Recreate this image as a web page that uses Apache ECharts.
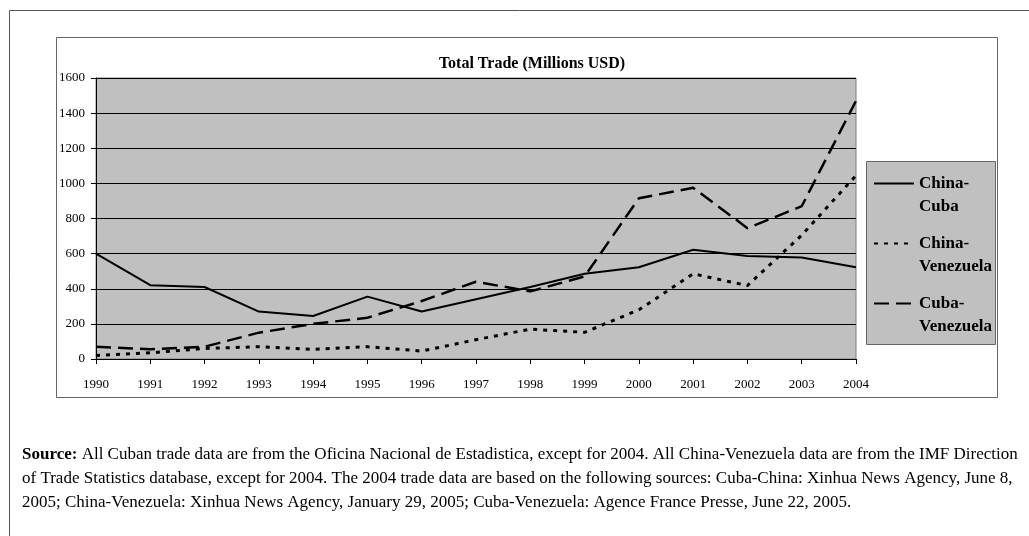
<!DOCTYPE html>
<html>
<head>
<meta charset="utf-8">
<script src="https://cdn.jsdelivr.net/npm/echarts@6/dist/echarts.min.js"></script>
<style>
  html, body { margin: 0; padding: 0; background: #fff; }
  #chart { width: 1029px; height: 536px; }
</style>
</head>
<body>
<div id="chart"></div>
<script>
// years on the x axis
const years = ['1990', '1991', '1992', '1993', '1994', '1995', '1996', '1997',
  '1998', '1999', '2000', '2001', '2002', '2003', '2004'];

// total trade, millions USD
const chinaCuba = [600, 420, 410, 270, 245, 355, 270, 340, 410, 485, 522, 622, 587, 578, 522];
const chinaVenezuela = [20, 35, 60, 70, 55, 70, 45, 110, 170, 152, 280, 485, 418, 705, 1045];
const cubaVenezuela = [70, 55, 70, 150, 200, 235, 330, 440, 385, 470, 915, 975, 745, 870, 1470];

const seriesNames = ['China-Cuba', 'China-Venezuela', 'Cuba-Venezuela'];
const legendLabels = {
  'China-Cuba': '\nChina-\nCuba',
  'China-Venezuela': '\nChina-\nVenezuela',
  'Cuba-Venezuela': '\nCuba-\nVenezuela'
};

const sourceLines = [
  '{b|Source:} All Cuban trade data are from the Oficina Nacional de Estadistica, except for 2004. All China-Venezuela data are from the IMF Direction',
  'of Trade Statistics database, except for 2004. The 2004 trade data are based on the following sources: Cuba-China: Xinhua News Agency, June 8,',
  '2005; China-Venezuela: Xinhua News Agency, January 29, 2005; Cuba-Venezuela: Agence France Presse, June 22, 2005.'
];

const serif = '"Liberation Serif", "DejaVu Serif", serif';

const chart = echarts.init(document.getElementById('chart'));

const option = {
  backgroundColor: '#fff',
  animation: false,
  title: {
    text: 'Total Trade (Millions USD)',
    left: 527,
    textAlign: 'center',
    top: 51,
    textStyle: { fontFamily: serif, fontWeight: 'bold', fontSize: 16, color: '#000' }
  },
  grid: {
    left: 96, top: 78, right: 173, bottom: 177,
    show: true,
    backgroundColor: '#c0c0c0',
    borderColor: '#808080',
    borderWidth: 1
  },
  xAxis: {
    type: 'category',
    data: years,
    boundaryGap: false,
    axisLine: { lineStyle: { color: '#000', width: 1 } },
    axisTick: { show: true, length: 5, lineStyle: { color: '#000' } },
    axisLabel: { color: '#000', fontFamily: serif, fontSize: 13, margin: 19 },
    splitLine: { show: false }
  },
  yAxis: {
    type: 'value',
    min: 0, max: 1600, interval: 200,
    axisLine: { show: true, lineStyle: { color: '#000', width: 1 } },
    axisTick: { show: true, length: 5, lineStyle: { color: '#000' } },
    axisLabel: { color: '#000', fontFamily: serif, fontSize: 13, margin: 11, formatter: v => String(v) },
    splitLine: { show: true, lineStyle: { color: '#000', width: 1 } }
  },
  legend: {
    orient: 'vertical',
    left: 873,
    top: 149,
    itemWidth: 40,
    itemHeight: 10,
    itemGap: -9,
    padding: 0,
    data: seriesNames,
    itemStyle: { opacity: 0 },
    formatter: name => legendLabels[name],
    textStyle: { fontFamily: serif, fontWeight: 'bold', fontSize: 17, lineHeight: 23, color: '#000' }
  },
  graphic: [
    { type: 'rect', z: -10, silent: true,
      shape: { x: 9.5, y: 10.5, width: 1040, height: 560 },
      style: { fill: 'none', stroke: '#555', lineWidth: 1 } },
    { type: 'rect', z: -10, silent: true,
      shape: { x: 56.5, y: 37.5, width: 941, height: 360 },
      style: { fill: 'none', stroke: '#666', lineWidth: 1 } },
    { type: 'rect', z: -1, silent: true,
      shape: { x: 866.5, y: 161.5, width: 129, height: 183 },
      style: { fill: '#c0c0c0', stroke: '#666', lineWidth: 1 } },
    { type: 'text', left: 22, top: 443, silent: true,
      style: {
        text: sourceLines.join('\n'),
        fontFamily: serif, fontSize: 17, lineHeight: 24, fill: '#000',
        rich: { b: { fontFamily: serif, fontSize: 17, fontWeight: 'bold', fill: '#000' } }
      } }
  ],
  series: [
    { name: seriesNames[0], type: 'line', data: chinaCuba, symbol: 'none',
      lineStyle: { color: '#000', width: 2, type: 'solid' }, itemStyle: { color: '#000' } },
    { name: seriesNames[1], type: 'line', data: chinaVenezuela, symbol: 'none',
      lineStyle: { color: '#000', width: 3, type: [4, 6] }, itemStyle: { color: '#000' } },
    { name: seriesNames[2], type: 'line', data: cubaVenezuela, symbol: 'none',
      lineStyle: { color: '#000', width: 2.5, type: [15, 7] }, itemStyle: { color: '#000' } }
  ]
};

chart.setOption(option);
</script>
</body>
</html>
